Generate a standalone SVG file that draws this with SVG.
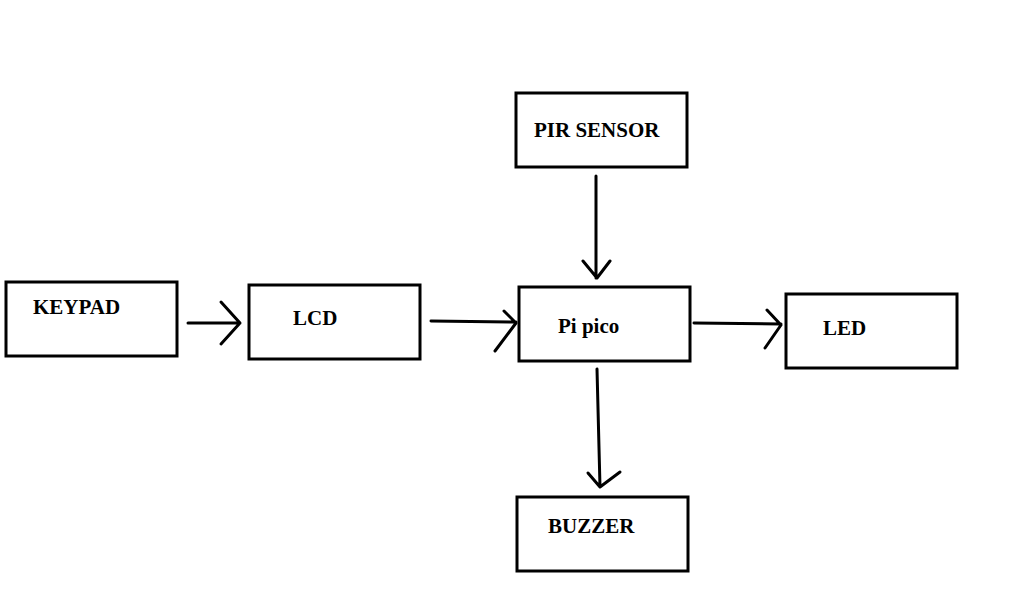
<svg xmlns="http://www.w3.org/2000/svg" width="1024" height="591" viewBox="0 0 1024 591">
<style>
.box{fill:#fff;stroke:#000;stroke-width:3}
.lbl{font-family:"Liberation Serif","Times New Roman",serif;font-weight:bold;font-size:21px;fill:#000}
.c{fill:none;stroke:#000;stroke-width:3;stroke-linecap:round;stroke-linejoin:round}
</style>
<rect width="1024" height="591" fill="#fff"/>
<g id="keypad"><rect class="box" x="6" y="282" width="171" height="74"/><text class="lbl" x="33" y="314">KEYPAD</text></g>
<g id="lcd"><rect class="box" x="249" y="285" width="171" height="74"/><text class="lbl" x="293" y="325">LCD</text></g>
<g id="pipico"><rect class="box" x="519" y="287" width="171" height="74"/><text class="lbl" x="558" y="333">Pi pico</text></g>
<g id="pir"><rect class="box" x="516" y="93" width="171" height="74"/><text class="lbl" x="534" y="137">PIR SENSOR</text></g>
<g id="led"><rect class="box" x="786" y="294" width="171" height="74"/><text class="lbl" x="823" y="335">LED</text></g>
<g id="buzzer"><rect class="box" x="517" y="497" width="171" height="74"/><text class="lbl" x="548" y="533">BUZZER</text></g>
<g id="connectors">
<path class="c" d="M188 323H240M221 302L240 323L221 344"/>
<path class="c" d="M431 321L516 322M504 311L516 323L495 351"/>
<path class="c" d="M596 176V278M583 261L597 278L610 261"/>
<path class="c" d="M694 323L781 324M767 310L781 325L765 348"/>
<path class="c" d="M597 369L600 487M588 473L600 487L620 472"/>
</g>
</svg>
